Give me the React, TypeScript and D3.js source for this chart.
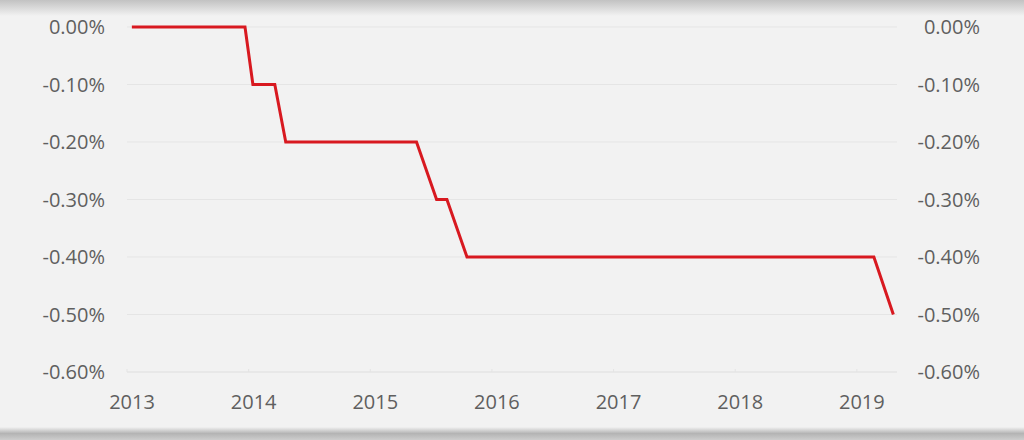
import React from "react";
import * as d3 from "d3";

const dates: number[] = [2013.04, 2013.97, 2014.035, 2014.215, 2014.305, 2015.38, 2015.545, 2015.63, 2015.795, 2019.14, 2019.3];
const rates: number[] = [0, 0, -0.1, -0.1, -0.2, -0.2, -0.3, -0.3, -0.4, -0.4, -0.5];
const yTicks: number[] = [0, -0.1, -0.2, -0.3, -0.4, -0.5, -0.6];
const xTicks: number[] = [2013, 2014, 2015, 2016, 2017, 2018, 2019];

const W = 1024;
const H = 440;
const FONT = "'Open Sans', 'Noto Sans', sans-serif";

export default function App() {
  const x = d3.scaleLinear().domain([2013, 2019.33]).range([127, 897]);
  const y = d3.scaleLinear().domain([0, -0.6]).range([27, 372]);
  const line = d3
    .line<number>()
    .x((_, i) => x(dates[i]))
    .y((d) => y(d));
  const fmt = (v: number) => (v === 0 ? "0.00%" : "-" + Math.abs(v).toFixed(2) + "%");

  return (
    <svg
      width={W}
      height={H}
      style={{ position: "absolute", left: 0, top: 0, display: "block" }}
    >
      <defs>
        <linearGradient id="topShade" x1="0" y1="0" x2="0" y2="1">
          <stop offset="0" stopColor="#c2c2c2" />
          <stop offset="1" stopColor="#f2f2f2" />
        </linearGradient>
        <linearGradient id="botShade" x1="0" y1="0" x2="0" y2="1">
          <stop offset="0" stopColor="#f2f2f2" />
          <stop offset="0.5" stopColor="#b4b4b4" />
          <stop offset="1" stopColor="#cdcdcd" />
        </linearGradient>
      </defs>
      <rect x={0} y={0} width={W} height={H} fill="#f2f2f2" />
      <rect x={0} y={0} width={W} height={16} fill="url(#topShade)" />
      <rect x={0} y={427} width={W} height={13} fill="url(#botShade)" />

      {yTicks.map((t) => (
        <line
          key={"g" + t}
          x1={x(2013)}
          x2={x(2019.33)}
          y1={y(t)}
          y2={y(t)}
          stroke={t === -0.6 ? "#dedede" : "#e5e5e5"}
          strokeWidth={1}
        />
      ))}
      {xTicks.map((t) => (
        <line key={"xt" + t} x1={x(t)} x2={x(t)} y1={y(-0.6)} y2={y(-0.6) - 3} stroke="#e4e4e4" />
      ))}

      {yTicks.map((t) => (
        <text
          key={"l" + t}
          x={105}
          y={y(t)}
          dy="0.35em"
          textAnchor="end"
          fontFamily={FONT}
          fontSize={20}
          fill="#5f5f5f"
        >
          {fmt(t)}
        </text>
      ))}
      {yTicks.map((t) => (
        <text
          key={"r" + t}
          x={980}
          y={y(t)}
          dy="0.35em"
          textAnchor="end"
          fontFamily={FONT}
          fontSize={20}
          fill="#5f5f5f"
        >
          {fmt(t)}
        </text>
      ))}
      {xTicks.map((t) => (
        <text
          key={"x" + t}
          x={x(t) + 5}
          y={402}
          dy="0.35em"
          textAnchor="middle"
          fontFamily={FONT}
          fontSize={20}
          fill="#5f5f5f"
        >
          {t}
        </text>
      ))}

      <path
        d={line(rates) || ""}
        fill="none"
        stroke="#d81920"
        strokeWidth={3}
        strokeLinejoin="miter"
      />
    </svg>
  );
}
